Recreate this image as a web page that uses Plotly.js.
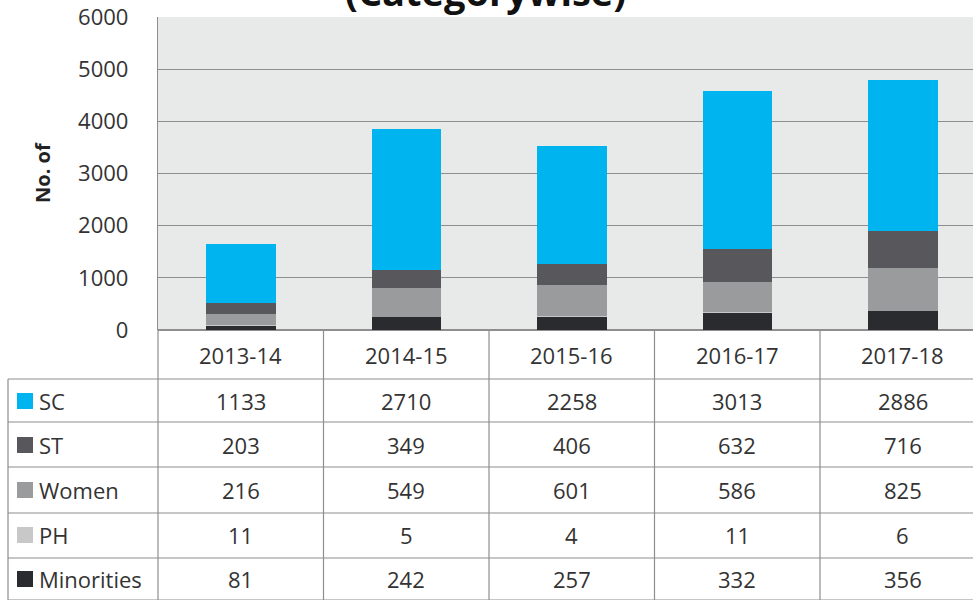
<!DOCTYPE html>
<html>
<head>
<meta charset="utf-8">
<script src="https://cdn.plot.ly/plotly-3.0.1.min.js"></script>
<style>html,body{margin:0;padding:0;background:#fff;overflow:hidden;}</style>
</head>
<body>
<div id="chart" style="width:973px;height:600px;"></div>
<script>
// ---- data ----
const categories = ['2013-14', '2014-15', '2015-16', '2016-17', '2017-18'];
const seriesNames = ['SC', 'ST', 'Women', 'PH', 'Minorities'];
const sc = [1133, 2710, 2258, 3013, 2886];
const st = [203, 349, 406, 632, 716];
const women = [216, 549, 601, 586, 825];
const ph = [11, 5, 4, 11, 6];
const minorities = [81, 242, 257, 332, 356];
const yTicks = [0, 1000, 2000, 3000, 4000, 5000, 6000];
const titleText = '(Categorywise)';
const yTitle = 'No. of';

// ---- style ----
const colors = {SC: '#00b4f0', ST: '#58585c', Women: '#9a9b9d', PH: '#c8c8c8', Minorities: '#2a2b2e'};
const values = {SC: sc, ST: st, Women: women, PH: ph, Minorities: minorities};
const FONT = '"Open Sans", Lato, sans-serif';
const TXT = '#333333';
const LINE = '#8e8e8e';
const FS = 22;

const W = 973, H = 600, L = 158, T = 17, B = 270;
const plotW = W - L, plotH = H - T - B;
const px2x = p => (p - L) / plotW;         // paper x from pixel
const py2y = p => (H - B - p) / plotH;      // paper y from pixel

// stacking order bottom -> top
const stackOrder = ['Minorities', 'PH', 'Women', 'ST', 'SC'];
const traces = stackOrder.map(n => ({
  type: 'bar', name: n, x: categories, y: values[n],
  marker: {color: colors[n], line: {width: 0}},
  width: 0.42, showlegend: false, hoverinfo: 'skip'
}));

// table geometry (pixels)
const headerTop = 330, rowLines = [379, 422, 467, 513, 558, 600];
const rowCenters = [401, 445, 490, 535, 579];
const headerCenter = 355;
const colW = 165.5;

const shapes = [];
const annotations = [];

// horizontal lines of the table
rowLines.forEach(p => shapes.push({type: 'line', xref: 'paper', yref: 'paper',
  x0: px2x(8), x1: 1.0, y0: py2y(p), y1: py2y(p), line: {color: LINE, width: 1.2}}));
// left border
shapes.push({type: 'line', xref: 'paper', yref: 'paper', x0: px2x(8), x1: px2x(8),
  y0: py2y(rowLines[0]), y1: py2y(600), line: {color: LINE, width: 1.2}});
// vertical separators at category boundaries
for (let k = 0; k < categories.length; k++) {
  const p = L + k * colW;
  shapes.push({type: 'line', xref: 'paper', yref: 'paper', x0: px2x(p), x1: px2x(p),
    y0: py2y(headerTop), y1: py2y(600), line: {color: LINE, width: 1.2}});
}

// header labels
categories.forEach((c, i) => annotations.push({xref: 'x', yref: 'paper', x: c, y: py2y(headerCenter),
  text: c, showarrow: false, xanchor: 'center', yanchor: 'middle', font: {family: FONT, size: FS, color: TXT}}));

// rows
seriesNames.forEach((n, r) => {
  const yc = py2y(rowCenters[r]);
  shapes.push({type: 'rect', xref: 'paper', yref: 'paper', x0: px2x(17), x1: px2x(33),
    y0: py2y(rowCenters[r] + 8), y1: py2y(rowCenters[r] - 8), fillcolor: colors[n], line: {width: 0}});
  annotations.push({xref: 'paper', yref: 'paper', x: px2x(37), y: yc, text: n, showarrow: false,
    xanchor: 'left', yanchor: 'middle', font: {family: FONT, size: FS, color: TXT}});
  values[n].forEach((v, i) => annotations.push({xref: 'x', yref: 'paper', x: categories[i], y: yc,
    text: String(v), showarrow: false, xanchor: 'center', yanchor: 'middle',
    font: {family: FONT, size: FS, color: TXT}}));
});

// title (cut off at top, as in the reference)
annotations.push({xref: 'paper', yref: 'paper', x: px2x(485), y: py2y(-9), text: '<b>' + titleText + '</b>',
  showarrow: false, xanchor: 'center', yanchor: 'middle', font: {family: FONT, size: 38, color: '#111'}});
// y axis title
annotations.push({xref: 'paper', yref: 'paper', x: px2x(42), y: py2y(172), text: '<b>' + yTitle + '</b>',
  showarrow: false, textangle: -90, xanchor: 'center', yanchor: 'middle', font: {family: FONT, size: 20, color: '#222'}});

const layout = {
  width: W, height: H,
  margin: {l: L, r: 0, t: T, b: B, pad: 0},
  paper_bgcolor: '#ffffff', plot_bgcolor: '#e8eaea',
  barmode: 'stack',
  font: {family: FONT, color: TXT},
  xaxis: {type: 'category', range: [-0.5, (W - L) / colW - 0.5], showticklabels: false,
    showgrid: false, zeroline: false, showline: false, ticks: ''},
  yaxis: {range: [0, 6000], tickvals: yTicks, ticktext: yTicks.map(String),
    showgrid: true, gridcolor: LINE, gridwidth: 1.2, zeroline: true, zerolinecolor: LINE, zerolinewidth: 1.2,
    showline: true, linecolor: LINE, linewidth: 1.2, ticks: '',
    ticklabelstandoff: 24, tickfont: {family: FONT, size: FS, color: TXT}},
  shapes: shapes, annotations: annotations
};

Plotly.newPlot('chart', traces, layout, {staticPlot: true, displayModeBar: false});
</script>
</body>
</html>
